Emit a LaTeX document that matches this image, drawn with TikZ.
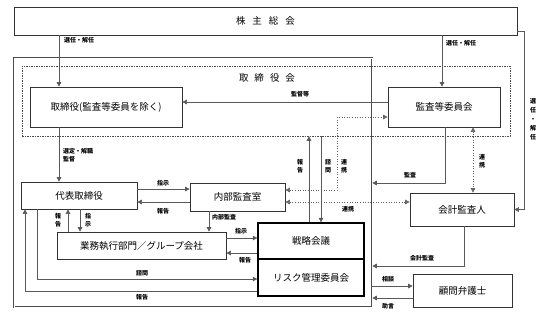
\documentclass[tikz,border=0pt]{standalone}
\usepackage{fontspec}
\setmainfont{Noto Sans CJK JP}
\usetikzlibrary{arrows.meta}
\begin{document}
\begin{tikzpicture}[x=1pt,y=-1pt,
  box/.style={draw=black!80, line width=0.7pt, fill=white, inner sep=0pt,
    font=\fontsize{9.5}{11}\selectfont},
  tbox/.style={box, draw=black, line width=1.3pt},
  lab/.style={font=\fontsize{6}{8}\selectfont\bfseries, inner sep=0pt, align=center},
  conn/.style={draw=black!65, line width=0.6pt},
  arr/.style={conn, -{Triangle[length=4.5pt,width=4.5pt]}},
  darr/.style={draw=black!60, line width=0.6pt, dotted,
    {Triangle[length=4.5pt,width=4.5pt]}-{Triangle[length=4.5pt,width=4.5pt]}},
]
\useasboundingbox (0,0) rectangle (551,317);
\fill[white] (0,0) rectangle (551,317);

% frames
\node[draw=black!70, double=white, double distance=1pt, line width=0.6pt,
  minimum width=358pt, minimum height=249pt, inner sep=0pt] (ob) at (193,182.5) {};
\node[draw=black!70, dashed, dash pattern=on 1.5pt off 1pt, line width=0.6pt,
  minimum width=488pt, minimum height=70pt, inner sep=0pt] (db) at (266,101) {};
\node[font=\fontsize{9.5}{11}\selectfont, inner sep=0pt] (dbl) at (267,78)
  {取\hspace{6pt}締\hspace{6pt}役\hspace{6pt}会};

% boxes
\node[box, minimum width=503pt, minimum height=28pt] (sh) at (265.5,21)
  {株\hspace{7pt}主\hspace{7pt}総\hspace{7pt}会};
\node[box, minimum width=152pt, minimum height=40pt] (tb) at (106,107) {取締役(監査等委員を除く)};
\node[box, minimum width=112pt, minimum height=40pt] (kc) at (444,107) {監査等委員会};
\node[box, minimum width=116pt, minimum height=27pt] (dh) at (79,195.5) {代表取締役};
\node[box, minimum width=95pt, minimum height=28pt] (na) at (237.5,197) {内部監査室};
\node[box, minimum width=169pt, minimum height=27pt] (gy) at (141.5,245.5) {業務執行部門／グループ会社};
\node[tbox, minimum width=106pt, minimum height=36pt] (sr) at (311,241) {戦略会議};
\node[tbox, minimum width=106pt, minimum height=37pt] (rk) at (311,277.5) {リスク管理委員会};
\node[box, minimum width=104pt, minimum height=33pt] (ka) at (462,209.5) {会計監査人};
\node[box, minimum width=99pt, minimum height=33pt] (bg) at (462.5,290.5) {顧問弁護士};

% helper coordinates
\coordinate (xa) at (59,0);
\coordinate (xb) at (442,0);
\coordinate (yr) at (0,31);
\coordinate (xr) at (524,0);
\coordinate (yk) at (0,102);
\coordinate (d1) at (337,190);
\coordinate (d2) at (337,117);
\coordinate (d3) at (0,202);
\coordinate (d4) at (473,0);
\coordinate (s1) at (309,0);
\coordinate (s2) at (321,0);
\coordinate (k1) at (445,183);
\coordinate (k2) at (464,266);
\coordinate (k3) at (0,286);
\coordinate (k4) at (0,298);
\coordinate (h1) at (0,189);
\coordinate (h2) at (0,202);
\coordinate (h3) at (209,0);
\coordinate (h4) at (0,238);
\coordinate (h5) at (0,253);
\coordinate (h6) at (68,0);
\coordinate (h7) at (80,0);
\coordinate (h8) at (37,279);
\coordinate (h9) at (25,291);

% connectors
\draw[arr] (xa |- sh.south) -- (xa |- tb.north);
\draw[arr] (xa |- tb.south) -- (xa |- dh.north);
\draw[arr] (xb |- sh.south) -- (xb |- kc.north);
\draw[arr] (sh.east |- yr) -| (xr |- ka.east) -- (ka.east);
\draw[arr] (kc.west |- yk) -- (tb.east |- yk);
\draw[darr] (na.east |- d1) -- (d1) -- (d2) -- (kc.west |- d2);
\draw[darr] (na.east |- d3) -- (ka.west |- d3);
\draw[darr] (d4 |- kc.south) -- (d4 |- ka.north);
\draw[arr] (s1 |- sr.north) -- (s1 |- db.south);
\draw[arr] (s2 |- db.south) -- (s2 |- sr.north);
\draw[arr] (k1 |- kc.south) -- (k1) -- (ob.east |- k1);
\draw[arr] (k2 |- ka.south) -- (k2) -- (ob.east |- k2);
\draw[arr] (ob.east |- k3) -- (bg.west |- k3);
\draw[arr] (bg.west |- k4) -- (ob.east |- k4);
\draw[arr] (dh.east |- h1) -- (na.west |- h1);
\draw[arr] (na.west |- h2) -- (dh.east |- h2);
\draw[arr] (h3 |- na.south) -- (h3 |- gy.north);
\draw[arr] (gy.east |- h4) -- (sr.west |- h4);
\draw[arr] (sr.west |- h5) -- (gy.east |- h5);
\draw[arr] (h6 |- gy.north) -- (h6 |- dh.south);
\draw[arr] (h7 |- dh.south) -- (h7 |- gy.north);
\draw[arr] (h8 |- dh.south) -- (h8) -- (rk.west |- h8);
\draw[arr] (rk.west |- h9) -- (h9) -- (h9 |- dh.south);

% labels
\node[lab, anchor=west] (l1) at (64,40) {選任・解任};
\node[lab, anchor=west] (l2) at (446,43) {選任・解任};
\node[lab, font=\fontsize{6}{9}\selectfont\bfseries] (l3) at (533,119) {選\\任\\・\\解\\任};
\node[lab] (l4) at (300,94) {監督等};
\node[lab, anchor=north west, align=left] (l5) at (63,148) {選定・解職\\監督};
\node[lab] (l6) at (300,166) {報\\告};
\node[lab] (l7) at (328,166) {諮\\問};
\node[lab] (l8) at (344,166) {連\\携};
\node[lab] (l9) at (348,209) {連携};
\node[lab] (l10) at (410,175) {監査};
\node[lab] (l11) at (482,161) {連\\携};
\node[lab] (l12) at (422,258) {会計監査};
\node[lab] (l13) at (388,279) {相談};
\node[lab] (l14) at (388,306) {助言};
\node[lab] (l15) at (163,183) {指示};
\node[lab] (l16) at (163,211) {報告};
\node[lab, anchor=west] (l17) at (212,217) {内部監査};
\node[lab] (l18) at (241,231) {指示};
\node[lab] (l19) at (245,260) {報告};
\node[lab] (l20) at (58,220) {報\\告};
\node[lab] (l21) at (88,220) {指\\示};
\node[lab] (l22) at (142,273) {諮問};
\node[lab] (l23) at (142,297) {報告};
\end{tikzpicture}
\end{document}
